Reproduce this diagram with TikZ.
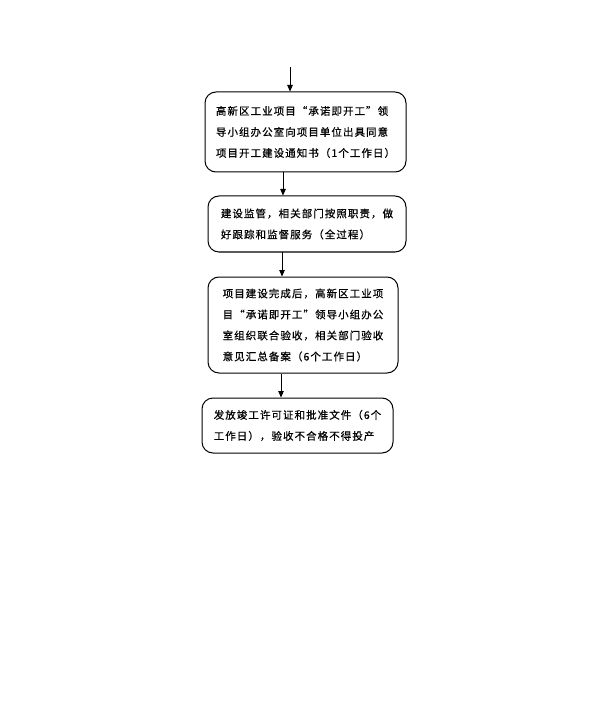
\documentclass[tikz,border=0pt]{standalone}
\usepackage{fontspec}
\newfontfamily\cjk[LetterSpace=10,FakeBold=0.6]{Noto Sans CJK SC}
\usetikzlibrary{arrows.meta}
\begin{document}
\begin{tikzpicture}[x=1pt,y=1pt,
  box/.style={draw=black, line width=1pt, rounded corners=11pt, inner sep=0pt,
    align=left, font=\cjk\fontsize{10.5}{21}\selectfont},
  arr/.style={-{Triangle[length=6.5pt,width=5.5pt]}, line width=0.8pt}]
\useasboundingbox[fill=white] (0,0) rectangle (600,-708);
\node[box, minimum width=201pt, minimum height=80pt] (b1) at (305.5,-132)
  {高新区工业项目“承诺即开工”领\\导小组办公室向项目单位出具同意\\项目开工建设通知书（1个工作日）};
\node[box, minimum width=198pt, minimum height=56pt] (b2) at (307,-224)
  {建设监管，相关部门按照职责，做\\好跟踪和监督服务（全过程）};
\node[box, minimum width=190pt, minimum height=96pt] (b3) at (303,-325)
  {项目建设完成后，高新区工业项\\目“承诺即开工”领导小组办公\\室组织联合验收，相关部门验收\\意见汇总备案（6个工作日）};
\node[box, minimum width=191pt, minimum height=55pt] (b4) at (297.5,-425.5)
  {发放竣工许可证和批准文件（6个\\工作日），验收不合格不得投产};
\coordinate (top) at (290,-67);
\draw[arr] (top) -- (top |- b1.north);
\draw[arr] ([xshift=-22.5pt]b1.south) -- ([xshift=-24pt]b2.north);
\draw[arr] ([xshift=-25pt]b2.south) -- ([xshift=-21pt]b3.north);
\draw[arr] ([xshift=-22pt]b3.south) -- ([xshift=-16.5pt]b4.north);
\end{tikzpicture}
\end{document}
